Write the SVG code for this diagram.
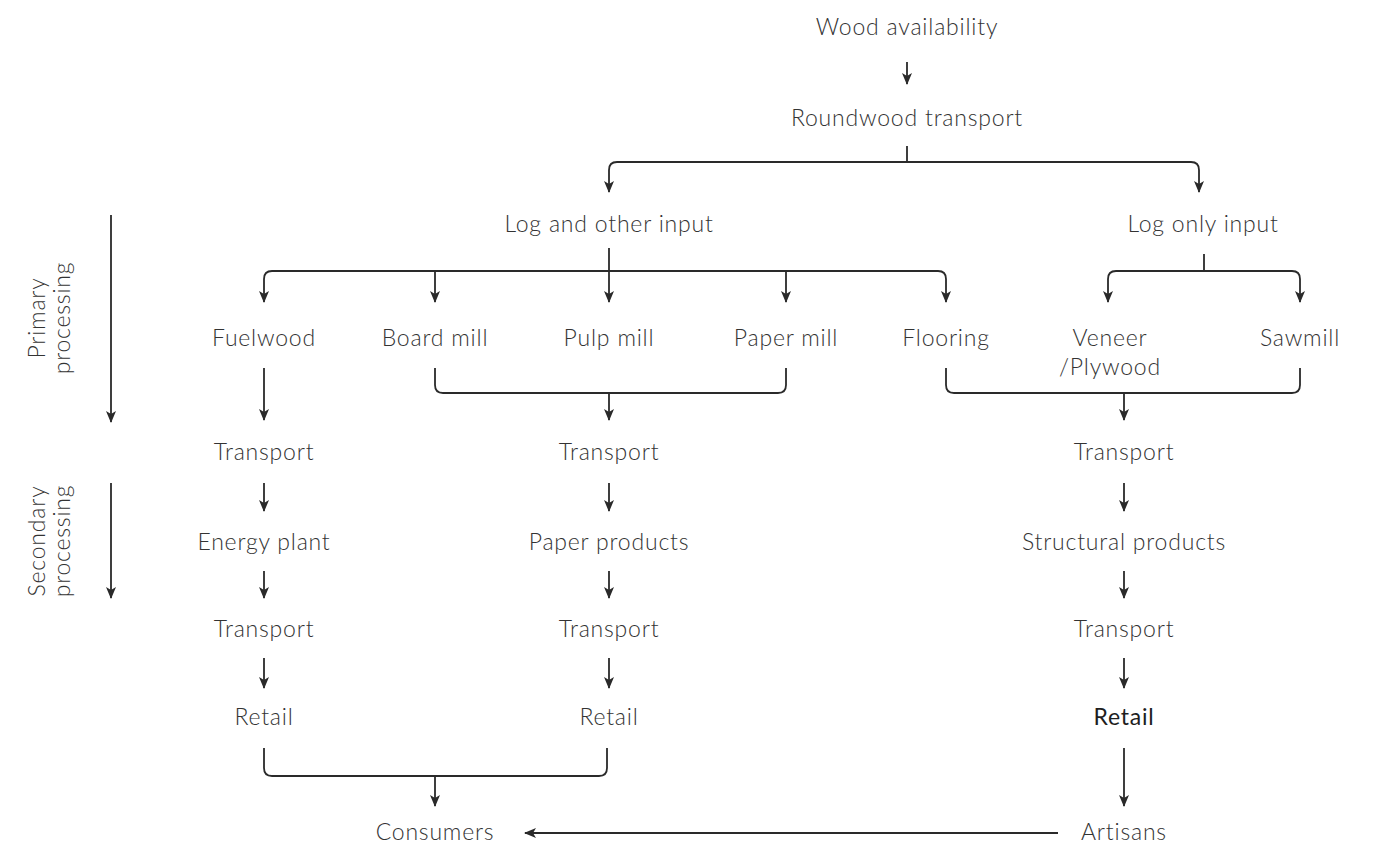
<svg xmlns="http://www.w3.org/2000/svg" width="1377" height="851" viewBox="0 0 1377 851">
  <style>
    .lbl { font-family: Lato, "Noto Sans", "Liberation Sans", sans-serif; font-size: 23px; font-weight: 300; letter-spacing: 0.8px; fill: #333; text-anchor: middle; }
    .bold { font-weight: 400; fill: #1e1e1e; }
    .wire { fill: none; stroke: #2a2a2a; stroke-width: 1.8; }
    .arr { marker-end: url(#head); }
  </style>
  <defs>
    <!-- filled arrowhead pointing along the path direction -->
    <marker id="head" viewBox="0 0 12 10" refX="11" refY="5" markerWidth="12" markerHeight="10" markerUnits="userSpaceOnUse" orient="auto">
      <path d="M0,0 L12,5 L0,10 L3,5 Z" fill="#2a2a2a"/>
    </marker>
  </defs>

  <!-- stage axis labels -->
  <g id="stage-primary">
    <text class="lbl" transform="translate(45,318) rotate(-90)">Primary</text>
    <text class="lbl" transform="translate(70,318) rotate(-90)">processing</text>
  </g>
  <g id="stage-secondary">
    <text class="lbl" transform="translate(45,541) rotate(-90)">Secondary</text>
    <text class="lbl" transform="translate(70,541) rotate(-90)">processing</text>
  </g>

  <!-- nodes -->
  <g id="wood-availability"><text class="lbl" x="907" y="35">Wood availability</text></g>
  <g id="roundwood-transport"><text class="lbl" x="907" y="126">Roundwood transport</text></g>
  <g id="log-and-other-input"><text class="lbl" x="609" y="232">Log and other input</text></g>
  <g id="log-only-input"><text class="lbl" x="1203" y="232">Log only input</text></g>

  <g id="fuelwood"><text class="lbl" x="264" y="346">Fuelwood</text></g>
  <g id="board-mill"><text class="lbl" x="435" y="346">Board mill</text></g>
  <g id="pulp-mill"><text class="lbl" x="609" y="346">Pulp mill</text></g>
  <g id="paper-mill"><text class="lbl" x="786" y="346">Paper mill</text></g>
  <g id="flooring"><text class="lbl" x="946" y="346">Flooring</text></g>
  <g id="veneer-plywood">
    <text class="lbl" x="1110" y="346">Veneer</text>
    <text class="lbl" x="1110" y="375">/Plywood</text>
  </g>
  <g id="sawmill"><text class="lbl" x="1300" y="346">Sawmill</text></g>

  <g id="transport-1a"><text class="lbl" x="264" y="460">Transport</text></g>
  <g id="transport-2a"><text class="lbl" x="609" y="460">Transport</text></g>
  <g id="transport-3a"><text class="lbl" x="1124" y="460">Transport</text></g>

  <g id="energy-plant"><text class="lbl" x="264" y="550">Energy plant</text></g>
  <g id="paper-products"><text class="lbl" x="609" y="550">Paper products</text></g>
  <g id="structural-products"><text class="lbl" x="1124" y="550">Structural products</text></g>

  <g id="transport-1b"><text class="lbl" x="264" y="637">Transport</text></g>
  <g id="transport-2b"><text class="lbl" x="609" y="637">Transport</text></g>
  <g id="transport-3b"><text class="lbl" x="1124" y="637">Transport</text></g>

  <g id="retail-1"><text class="lbl" x="264" y="725">Retail</text></g>
  <g id="retail-2"><text class="lbl" x="609" y="725">Retail</text></g>
  <g id="retail-3"><text class="lbl bold" x="1124" y="725">Retail</text></g>

  <g id="consumers"><text class="lbl" x="435" y="840">Consumers</text></g>
  <g id="artisans"><text class="lbl" x="1124" y="840">Artisans</text></g>

  <!-- connectors -->
  <g id="connectors">
    <!-- stage axes -->
    <path class="wire arr" d="M111,215 V422"/>
    <path class="wire arr" d="M111,483 V598"/>

    <path class="wire arr" d="M907,62 V84"/>

    <!-- split after roundwood transport -->
    <path class="wire" d="M907,146 V162"/>
    <path class="wire arr" d="M617,162 H1191 Q1199,162 1199,170 V192"/>
    <path class="wire arr" d="M617,162 Q609,162 609,170 V192"/>

    <!-- fan-out from log and other input -->
    <path class="wire arr" d="M609,248 V302"/>
    <path class="wire arr" d="M272,271 Q264,271 264,279 V302"/>
    <path class="wire" d="M272,271 H938"/>
    <path class="wire arr" d="M938,271 Q946,271 946,279 V302"/>
    <path class="wire arr" d="M435,271 V302"/>
    <path class="wire arr" d="M786,271 V302"/>

    <!-- fan-out from log only input -->
    <path class="wire" d="M1204,254 V271"/>
    <path class="wire arr" d="M1116,271 Q1108,271 1108,279 V302"/>
    <path class="wire" d="M1116,271 H1292"/>
    <path class="wire arr" d="M1292,271 Q1300,271 1300,279 V302"/>

    <!-- primary to transport -->
    <path class="wire arr" d="M264,368 V420"/>
    <path class="wire" d="M435,368 V385 Q435,393 443,393 H778 Q786,393 786,385 V368"/>
    <path class="wire arr" d="M609,393 V420"/>
    <path class="wire" d="M946,368 V385 Q946,393 954,393 H1292 Q1300,393 1300,385 V368"/>
    <path class="wire arr" d="M1124,393 V420"/>

    <!-- secondary chains -->
    <path class="wire arr" d="M264,483 V511"/>
    <path class="wire arr" d="M609,483 V511"/>
    <path class="wire arr" d="M1124,483 V511"/>
    <path class="wire arr" d="M264,571 V598"/>
    <path class="wire arr" d="M609,571 V598"/>
    <path class="wire arr" d="M1124,571 V598"/>
    <path class="wire arr" d="M264,658 V688"/>
    <path class="wire arr" d="M609,658 V688"/>
    <path class="wire arr" d="M1124,658 V688"/>

    <!-- retail to end users -->
    <path class="wire" d="M264,748 V768 Q264,776 272,776 H599 Q607,776 607,768 V748"/>
    <path class="wire arr" d="M435,776 V806"/>
    <path class="wire arr" d="M1124,748 V806"/>
    <path class="wire arr" d="M1058,833 H525"/>
  </g>
</svg>
